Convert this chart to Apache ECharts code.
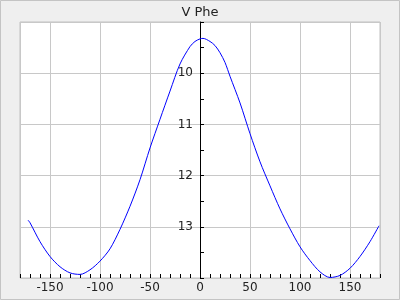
<!DOCTYPE html>
<html><head><meta charset="utf-8">
<script src="https://cdn.jsdelivr.net/npm/echarts@6/dist/echarts.min.js"></script>
<style>html,body{margin:0;padding:0;background:#efefef;}#c{width:400px;height:300px;}</style>
</head><body><div id="c"></div>
<script>
var titleText = "V Phe";
var phase = [-172,-170,-160,-150,-140,-130,-120,-110,-100,-90,-80,-70,-60,-50,-40,-30,-20,-10,-5,0,3,10,15,20,25,30,40,50,60,70,80,90,100,110,120,130,140,150,160,170,179];
var mag = [12.87,12.92,13.29,13.58,13.78,13.90,13.93,13.84,13.67,13.43,13.05,12.60,12.08,11.46,10.90,10.35,9.82,9.48,9.38,9.33,9.32,9.38,9.46,9.60,9.79,10.06,10.58,11.18,11.73,12.20,12.65,13.04,13.39,13.66,13.88,13.99,13.95,13.81,13.58,13.29,12.98];
var xMin = -180, xMax = 180, yMin = 9, yMax = 14;

var pts = phase.map(function(p,i){return [p, mag[i]];});
var chart = echarts.init(document.getElementById('c'));
var font = 'DejaVu Sans';
var gridLeft = 20, gridRight = 20, plotW = 400 - gridLeft - gridRight;
var zeroOffset = -plotW * (0 - xMin) / (xMax - xMin);
chart.setOption({
  backgroundColor: '#efefef',
  animation: false,
  title: {text: titleText, left: 'center', top: 1, textStyle: {fontFamily: font, fontSize: 13, fontWeight: 'normal', color: '#222'}},
  graphic: [{type:'rect', shape:{x:0.5,y:0.5,width:399,height:299}, style:{fill:'none', stroke:'#c4c4c4', lineWidth:1}, z:100}],
  grid: {left: gridLeft, right: gridRight, top: 22, bottom: 22, outerBoundsMode: 'none', show: true, backgroundColor: '#fff', borderColor: '#c0c0c0', borderWidth: 1},
  xAxis: [{
    type: 'value', min: xMin, max: xMax, splitNumber: 7,
    axisLine: {show: false},
    axisTick: {show: false},
    axisLabel: {showMinLabel: false, showMaxLabel: false, fontFamily: font, fontSize: 12, color: '#222', margin: 4},
    splitLine: {show: true, lineStyle: {color: '#c8c8c8', width: 1}}
  },{
    type: 'value', min: xMin, max: xMax, interval: 10, position: 'bottom',
    axisLine: {show: false},
    axisTick: {show: true, inside: true, length: 4, lineStyle: {color: '#000'}},
    axisLabel: {show: false},
    splitLine: {show: false}
  }],
  yAxis: {
    type: 'value', inverse: true, min: yMin, max: yMax, interval: 1, position: 'left', offset: zeroOffset,
    axisLine: {show: true, onZero: false, lineStyle: {color: '#000', width: 1}},
    axisTick: {show: true, inside: true, length: 4, lineStyle: {color: '#000'}},
    minorTick: {show: true, splitNumber: 2, length: 4, lineStyle: {color: '#000'}},
    axisLabel: {showMinLabel: false, showMaxLabel: false, fontFamily: font, fontSize: 12, color: '#222', margin: 7},
    splitLine: {show: true, lineStyle: {color: '#c8c8c8', width: 1}}
  },
  series: [{
    type: 'line', xAxisIndex: 0, data: pts, showSymbol: false, smooth: 0.3,
    lineStyle: {color: '#0000ff', width: 1}, itemStyle: {color: '#0000ff'}
  }]
});
</script></body></html>
